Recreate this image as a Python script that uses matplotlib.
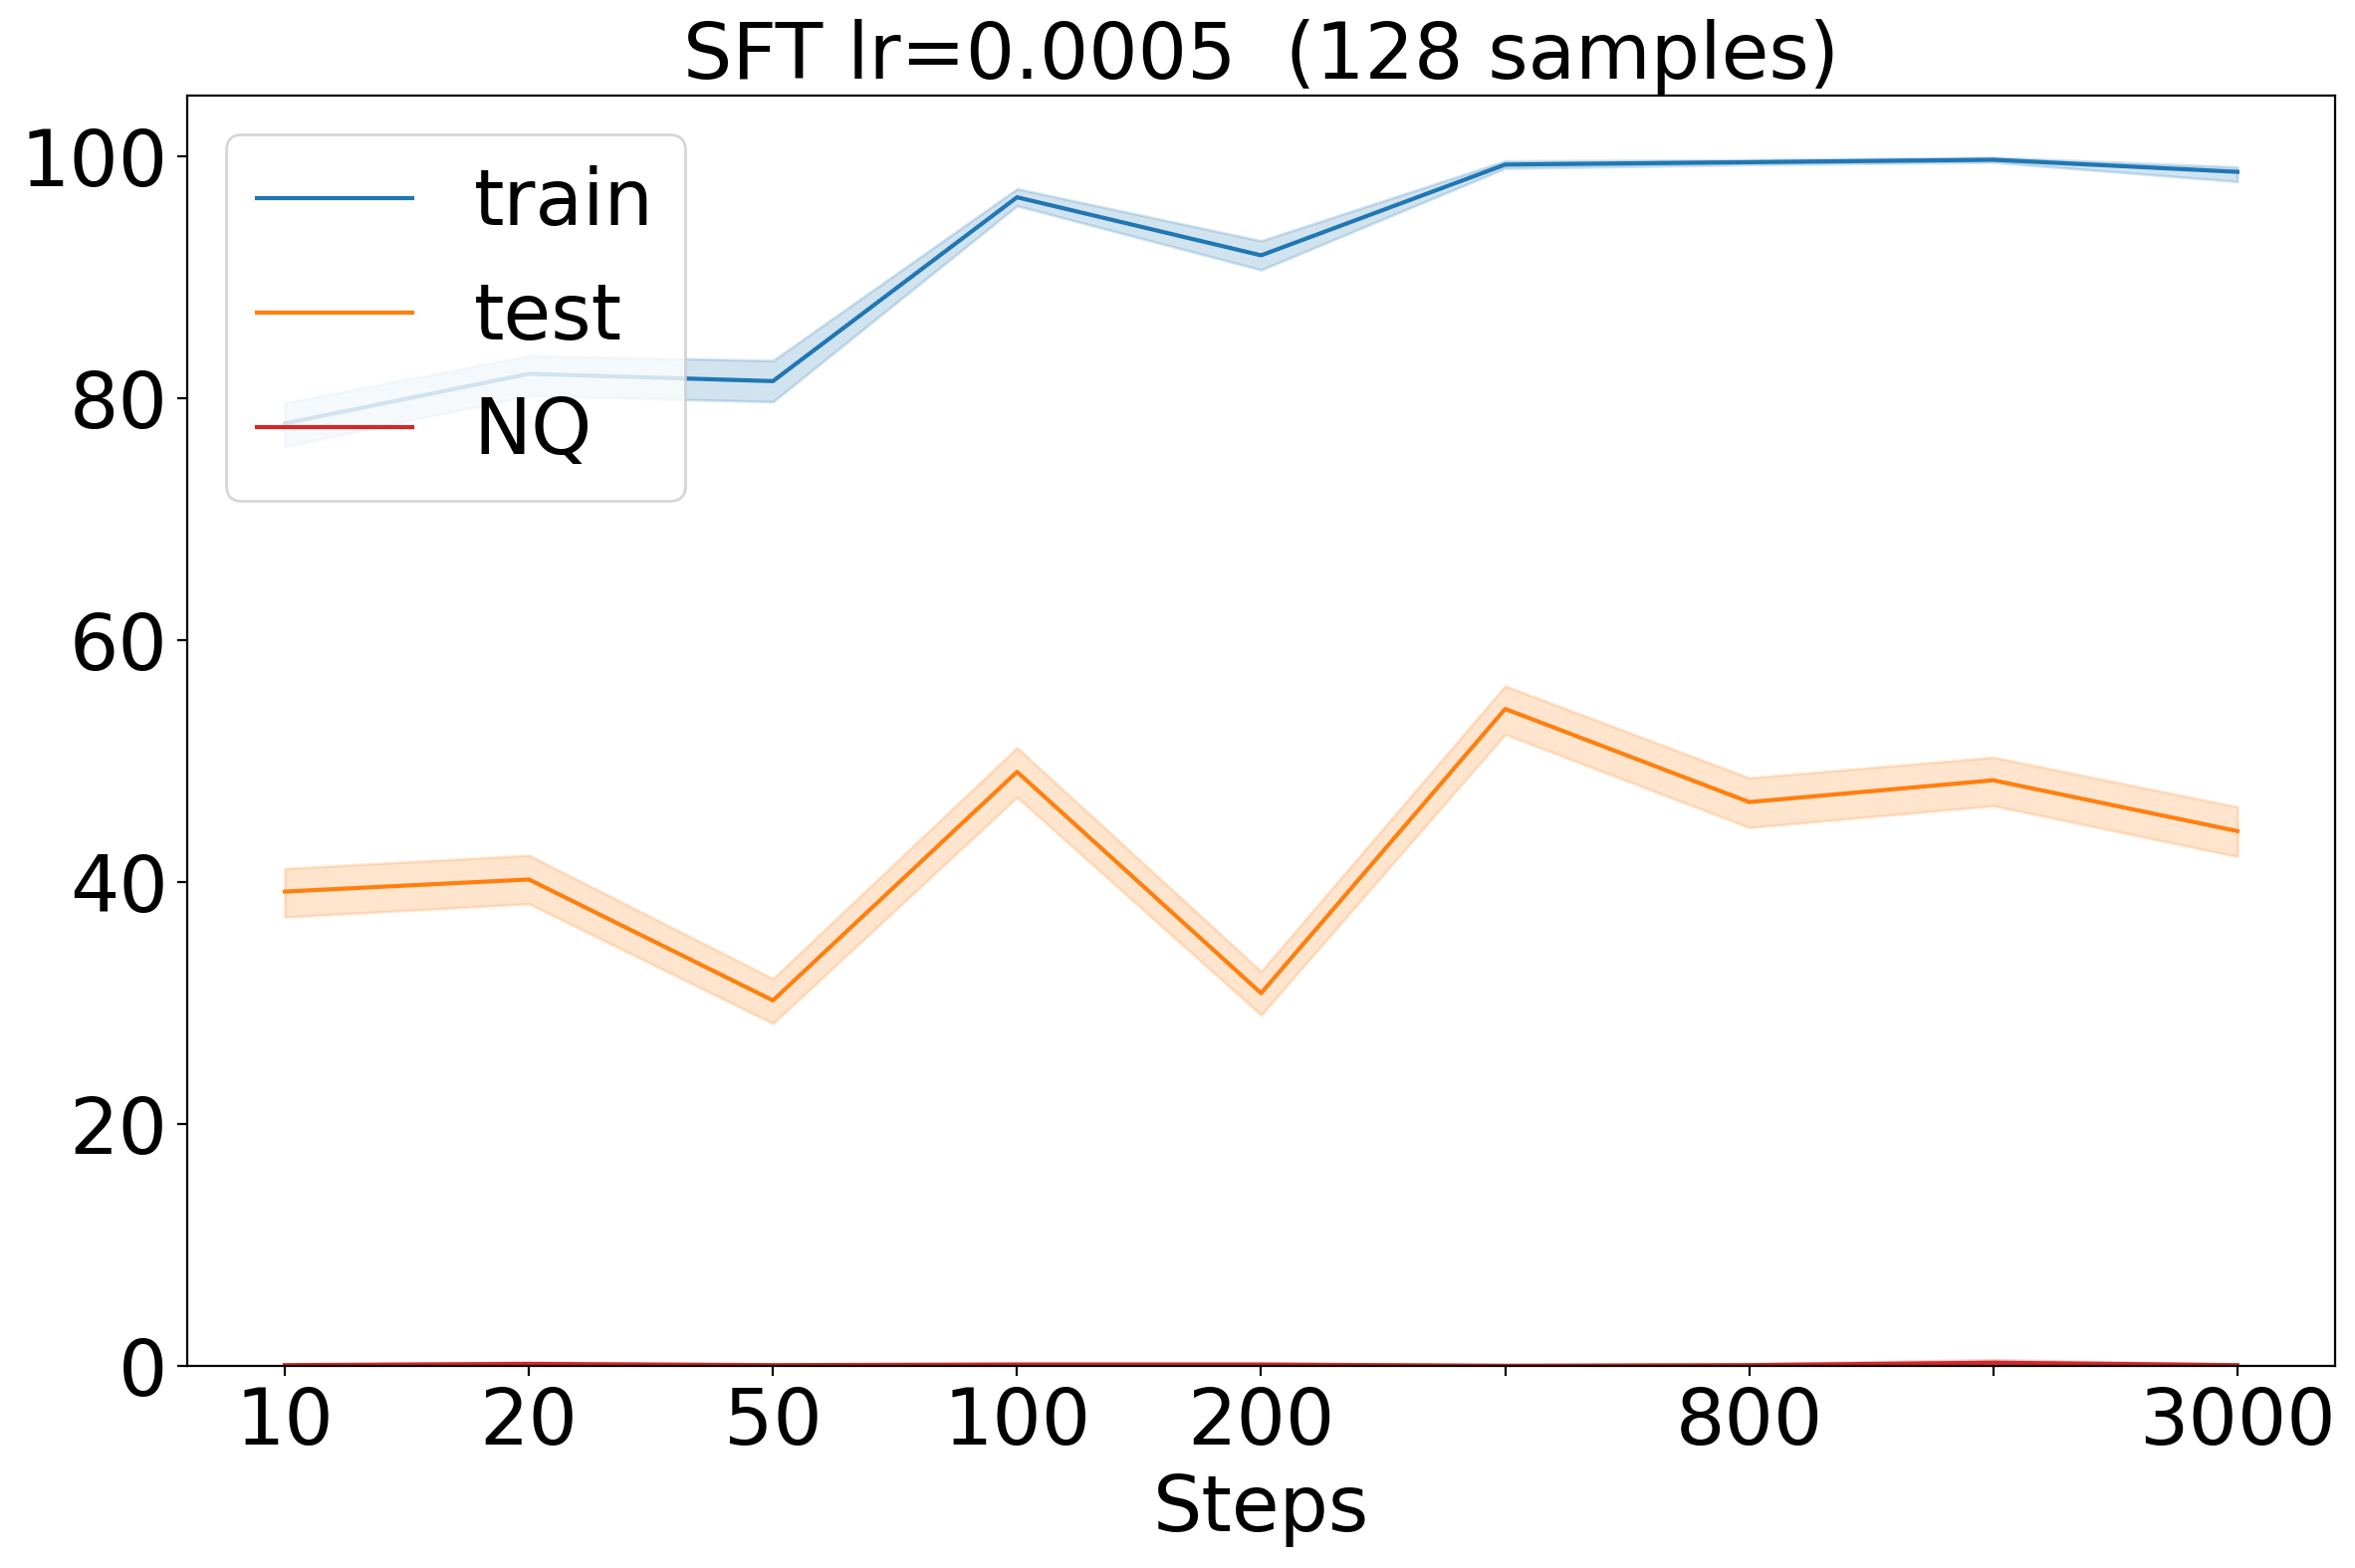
import numpy as np
import matplotlib
matplotlib.use("Agg")
import matplotlib.pyplot as plt

# x categories (steps), only some are labelled on the axis
steps = [10, 20, 50, 100, 200, 400, 800, 1500, 3000]
tick_labels = ["10", "20", "50", "100", "200", "", "800", "", "3000"]

train_mean = [77.9, 82.0, 81.4, 96.6, 91.8, 99.3, 99.5, 99.7, 98.7]
train_lo = [76.0, 80.2, 79.7, 95.9, 90.6, 99.0, 99.3, 99.5, 97.9]
train_hi = [79.6, 83.5, 83.1, 97.3, 93.0, 99.6, 99.7, 99.9, 99.1]

test_mean = [39.2, 40.2, 30.2, 49.1, 30.8, 54.3, 46.6, 48.4, 44.2]
test_lo = [37.1, 38.2, 28.3, 47.0, 29.0, 52.2, 44.5, 46.3, 42.1]
test_hi = [41.1, 42.2, 32.0, 51.1, 32.6, 56.2, 48.6, 50.3, 46.2]

nq_mean = [0.05, 0.15, 0.05, 0.1, 0.1, 0.0, 0.05, 0.25, 0.05]
nq_lo = [0.0, 0.0, 0.0, 0.0, 0.0, 0.0, 0.0, 0.0, 0.0]
nq_hi = [0.1, 0.3, 0.1, 0.2, 0.2, 0.05, 0.15, 0.5, 0.1]

fig, ax = plt.subplots(figsize=(11.825, 7.875), dpi=200)
fig.subplots_adjust(left=0.0795, right=0.9915, bottom=0.129, top=0.939)

x = np.arange(len(steps))
series = [
    ("train", train_mean, train_lo, train_hi, "#1f77b4"),
    ("test", test_mean, test_lo, test_hi, "#ff7f0e"),
    ("NQ", nq_mean, nq_lo, nq_hi, "#d62728"),
]
for name, m, lo, hi, c in series:
    ax.plot(x, m, color=c, lw=1.5, label=name)
    ax.fill_between(x, lo, hi, color=c, alpha=0.2)

ax.set_xticks(x)
ax.set_xticklabels(tick_labels)
ax.set_xlim(-0.4, len(steps) - 0.6)
ax.set_ylim(0, 105)
ax.tick_params(labelsize=28)
ax.set_xlabel("Steps", fontsize=28)
ax.set_title("SFT lr=0.0005  (128 samples)", fontsize=28)

leg = ax.legend(loc="upper left", fontsize=28)

fig.savefig("out.png", dpi=200)
